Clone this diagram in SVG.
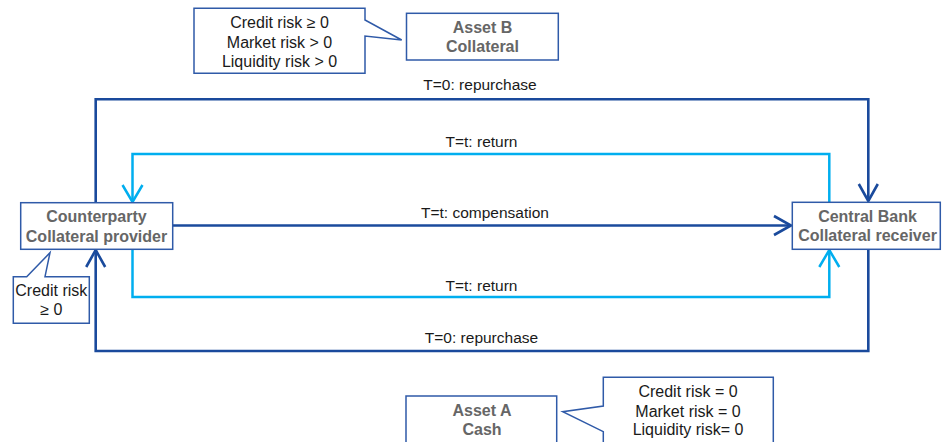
<svg xmlns="http://www.w3.org/2000/svg" width="944" height="442" viewBox="0 0 944 442">
<style>
  .box { fill: #ffffff; stroke: #2f5aa8; stroke-width: 1.5; }
  .node { font-family: "Liberation Sans", Arial, sans-serif; font-size: 16px; font-weight: bold; fill: #666666; text-anchor: middle; }
  .note { font-family: "Liberation Sans", Arial, sans-serif; font-size: 16px; fill: #1a1a1a; text-anchor: middle; }
  .lbl { font-family: "Liberation Sans", Arial, sans-serif; font-size: 15.5px; fill: #1a1a1a; text-anchor: middle; }
  .dark { fill: none; stroke: #1a4a9c; stroke-width: 2.6; }
  .light { fill: none; stroke: #00aeef; stroke-width: 2.5; }
</style>
<defs>
  <marker id="arrDark" markerUnits="userSpaceOnUse" viewBox="-20 -12 24 24" refX="0" refY="0" markerWidth="24" markerHeight="24" orient="auto">
    <path d="M-17,-9.5 L0,0 L-17,9.5" fill="none" stroke="#1a4a9c" stroke-width="2.6"/>
  </marker>
  <marker id="arrLight" markerUnits="userSpaceOnUse" viewBox="-20 -12 24 24" refX="0" refY="0" markerWidth="24" markerHeight="24" orient="auto">
    <path d="M-17,-10 L0,0 L-17,10" fill="none" stroke="#00aeef" stroke-width="2.5"/>
  </marker>
</defs>
<rect width="944" height="442" fill="#ffffff"/>

<g id="connectors">
  <path class="dark" d="M95.7,203 V99.3 H868.3 V201" marker-end="url(#arrDark)"/>
  <path class="dark" d="M868.3,249 V351 H95.7 V250" marker-end="url(#arrDark)"/>
  <path class="light" d="M829.3,202 V154 H132.5 V202" marker-end="url(#arrLight)"/>
  <path class="light" d="M132.5,249 V297 H829.3 V250" marker-end="url(#arrLight)"/>
  <path class="dark" d="M173,225.5 H791" marker-end="url(#arrDark)"/>
  <text class="lbl" x="480" y="89.5">T=0: repurchase</text>
  <text class="lbl" x="481.5" y="147">T=t: return</text>
  <text class="lbl" x="485" y="218">T=t: compensation</text>
  <text class="lbl" x="481.5" y="290.5">T=t: return</text>
  <text class="lbl" x="481.5" y="343">T=0: repurchase</text>
</g>

<g id="callout-assetB">
  <path class="box" d="M194,8.3 H365 V20 L401.7,40 L365,36 V73.3 H194 Z"/>
  <text class="note" x="279.5" y="28.3">Credit risk ≥ 0</text>
  <text class="note" x="279.5" y="47.5">Market risk &gt; 0</text>
  <text class="note" x="279.5" y="66.7">Liquidity risk &gt; 0</text>
</g>

<g id="assetB">
  <rect class="box" x="406.5" y="13.3" width="151.8" height="46.7"/>
  <text class="node" x="482.5" y="33.3">Asset B</text>
  <text class="node" x="482.5" y="52">Collateral</text>
</g>

<g id="counterparty">
  <rect class="box" x="20.7" y="202.7" width="152" height="46.6"/>
  <text class="node" x="96.5" y="221.7">Counterparty</text>
  <text class="node" x="96.5" y="241.5">Collateral provider</text>
</g>

<g id="callout-counterparty">
  <path class="box" d="M13.3,276.7 H26.7 L50,252.7 L45,276.7 H89.3 V323.3 H13.3 Z"/>
  <text class="note" x="51.3" y="296">Credit risk</text>
  <text class="note" x="51.3" y="315">≥ 0</text>
</g>

<g id="centralbank">
  <rect class="box" x="792.3" y="202.3" width="148" height="47"/>
  <text class="node" x="867.5" y="221.7">Central Bank</text>
  <text class="node" x="867.5" y="241">Collateral receiver</text>
</g>

<g id="assetA">
  <rect class="box" x="406" y="396" width="150.7" height="60"/>
  <text class="node" x="482" y="416">Asset A</text>
  <text class="node" x="482" y="435">Cash</text>
</g>

<g id="callout-assetA">
  <path class="box" d="M603.3,377.3 H773.3 V460 H603.3 V431.7 L562.7,411.7 L603.3,406 Z"/>
  <text class="note" x="688" y="397.3">Credit risk = 0</text>
  <text class="note" x="688" y="416.7">Market risk = 0</text>
  <text class="note" x="688" y="435">Liquidity risk= 0</text>
</g>
</svg>
